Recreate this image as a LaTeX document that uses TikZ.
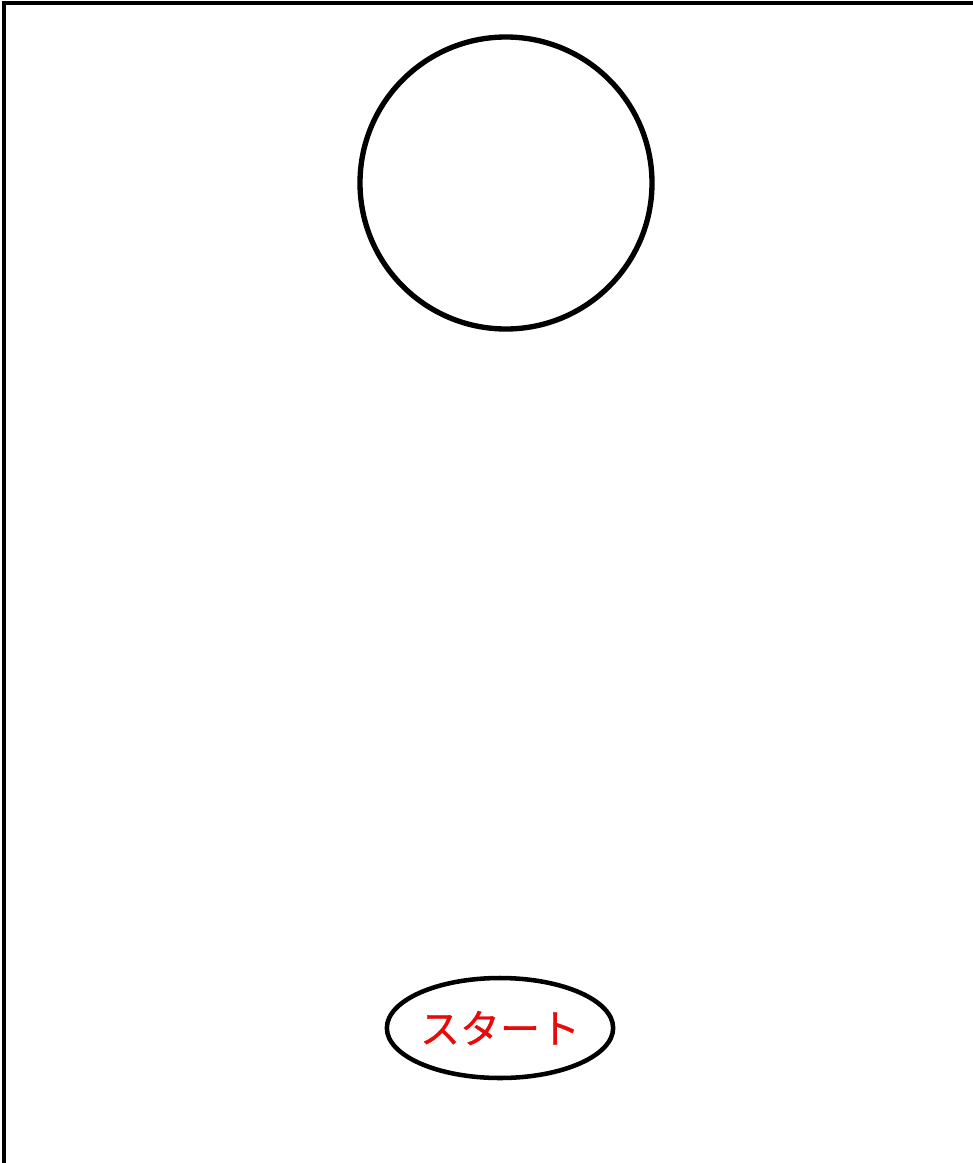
\documentclass[tikz,border=0pt]{standalone}
\usepackage{fontspec}
\newfontfamily\jpfont[FakeBold=0.6]{Noto Sans CJK JP}
\usepackage{xcolor}
\usetikzlibrary{positioning, shapes.geometric}
\definecolor{myred}{HTML}{E80A0A}

\begin{document}
\begin{tikzpicture}[
  x=0.75pt, y=-0.75pt,
  frame/.style={draw=black, line width=3.2pt},
  ball/.style={circle, draw=black, line width=4pt, minimum size=219pt, inner sep=0pt},
  start/.style={ellipse, draw=black, line width=3.4pt, minimum width=161pt, minimum height=75pt,
    inner sep=0pt, font=\jpfont\fontsize{30}{33}\selectfont, text=myred}
]
\useasboundingbox (0,0) rectangle (973,1163);
\clip (0,0) rectangle (973,1163);
\coordinate (topleft) at (4,3);
\coordinate (farcorner) at (1000,1200);
\draw[frame] (topleft) rectangle (farcorner);
\node[ball] (goal) at (506,183) {};
\node[start] (startnode) at (500,1028) {スタート};
\end{tikzpicture}
\end{document}
